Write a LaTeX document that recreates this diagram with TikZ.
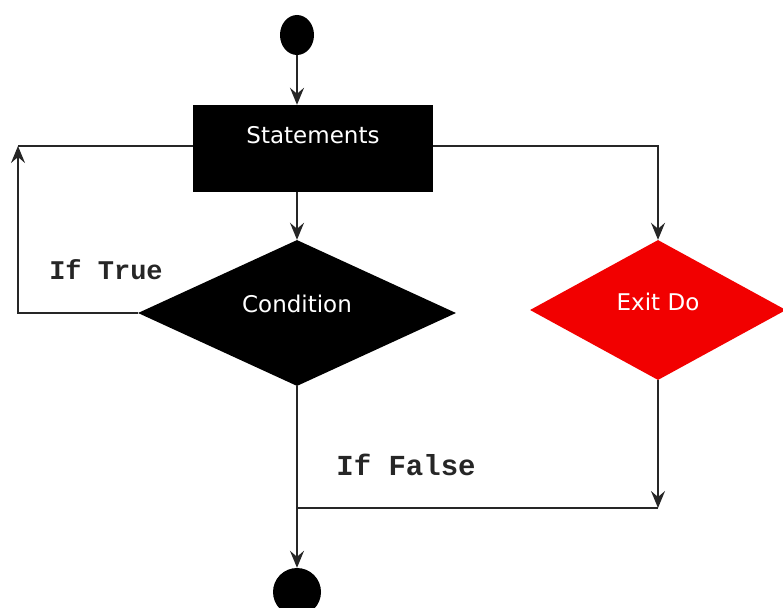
\documentclass[tikz,border=0pt]{standalone}
\usepackage{fontspec}
\setmainfont{DejaVu Sans}
\newfontfamily\monofont{Liberation Mono}
\usetikzlibrary{shapes.geometric,arrows.meta}
\begin{document}
\begin{tikzpicture}[x=1pt,y=-1pt,
  conn/.style={line width=1.8pt, draw=black!85},
  arr/.style={conn, -{Stealth[length=17pt,width=14pt,inset=6pt]}},
  dot/.style={ellipse, fill=black, inner sep=0pt},
  stmtbox/.style={rectangle, fill=black, text=white, inner sep=0pt,
    minimum width=240pt, text height=38pt, text depth=49pt,
    font=\fontsize{23}{23}\selectfont},
  dia/.style={diamond, inner sep=0pt, text=white,
    font=\fontsize{23}{23}\selectfont},
  lbl/.style={text=black!85, inner sep=0pt}
]
\useasboundingbox (0,0) rectangle (783,607);
\clip (0,0) rectangle (783,607);

\node[dot, minimum width=34pt, minimum height=40pt] (start) at (297,35) {};
\node[stmtbox] (st) at (313,148.5) {Statements\hspace{10pt}};
\node[dia, fill=black, minimum width=318pt, minimum height=146pt,
      text height=16pt, text depth=18pt] (cond) at (297,313) {Condition};
\node[dia, fill=red!95!black, minimum width=256pt, minimum height=140pt,
      text height=17pt, text depth=17pt] (exit) at (658,310) {Exit Do};
\node[dot, minimum width=48pt, minimum height=48pt] (end) at (297,592) {};

\node[lbl, font=\monofont\bfseries\fontsize{27}{27}\selectfont] (ltrue) at (106,270) {If True};
\node[lbl, font=\monofont\bfseries\fontsize{29}{29}\selectfont] (lfalse) at (406,465) {If False};

\coordinate (ul) at (18,146);
\coordinate (ur) at (658,146);
\coordinate (br) at (658,508);
\coordinate (bl) at (297,508);

\draw[arr] (start) -- (start |- st.north);
\draw[arr] (cond.north |- st.south) -- (cond.north);
\draw[arr] (cond.west) -| (ul);
\draw[conn] (ul) -- (st.west |- ul);
\draw[arr] (st.east |- ur) -- (ur) -- (exit.north);
\draw[arr] (exit.south) -- (br);
\draw[conn] (br) -- (bl);
\draw[arr] (cond.south) -- (end);
\end{tikzpicture}
\end{document}
